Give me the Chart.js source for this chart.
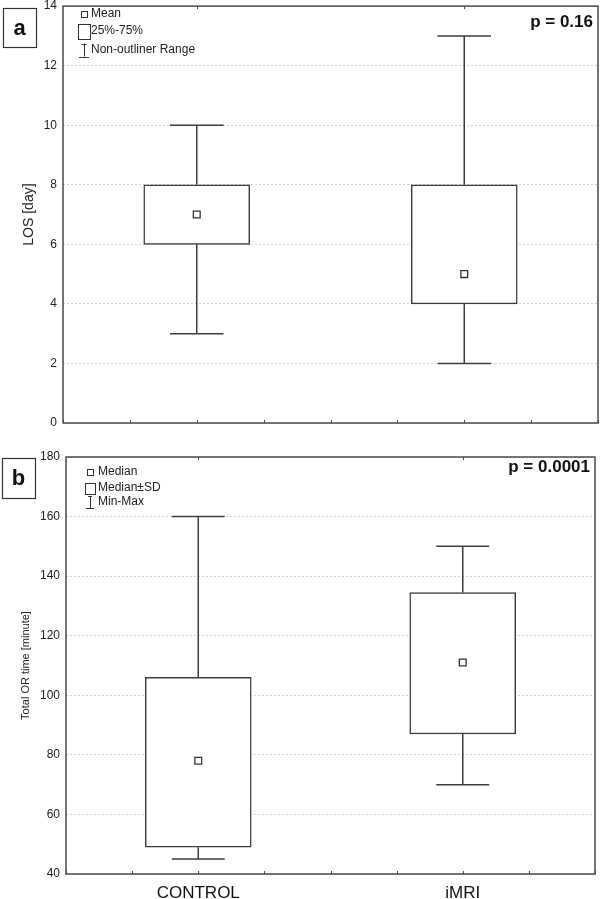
<!DOCTYPE html>
<html>
<head>
<meta charset="utf-8">
<script src="https://cdn.jsdelivr.net/npm/chart.js@4.4.0/dist/chart.umd.min.js"></script>
<style>
  body { margin: 0; background: #fff; }
  #wrap { position: relative; width: 609px; height: 899px; }
  #wrap canvas { position: absolute; left: 0; }
</style>
</head>
<body>
<div id="wrap">
  <canvas id="chartA" width="609" height="440" style="top:0"></canvas>
  <canvas id="chartB" width="609" height="459" style="top:440px"></canvas>
</div>
<script>
// groups and where they sit on the 0..8 x axis
const groups = ['CONTROL', 'iMRI'];
const groupPos = [2, 6];

// panel a - length of stay [day]
const losMin = [3, 2];
const losQ1 = [6, 4];
const losQ3 = [8, 8];
const losMax = [10, 13];
const losMean = [7, 5];
const legendA = ['Mean', '25%-75%', 'Non-outliner Range'];

// panel b - total OR time [minute]
const orMin = [45, 70];
const orSdLow = [49, 87];
const orSdHigh = [106, 134.5];
const orMax = [160, 150];
const orMedian = [78, 111];
const legendB = ['Median', 'Median\u00b1SD', 'Min-Max'];

const FONT = "'Liberation Sans', Arial, sans-serif";
const INK = '#3c3c3c';
const capHalf = 0.4;

Chart.defaults.font.family = FONT;
Chart.defaults.color = '#222';

function whiskers(lo, hi, min, max) {
  const pts = [];
  groupPos.forEach((x, i) => {
    pts.push({x, y: hi[i]}, {x, y: max[i]}, {x, y: null});
    pts.push({x: x - capHalf, y: max[i]}, {x: x + capHalf, y: max[i]}, {x, y: null});
    pts.push({x, y: lo[i]}, {x, y: min[i]}, {x, y: null});
    pts.push({x: x - capHalf, y: min[i]}, {x: x + capHalf, y: min[i]}, {x, y: null});
  });
  return pts;
}

const panelDecor = {
  id: 'panelDecor',
  afterDraw(chart, args, o) {
    const {ctx, chartArea: a} = chart;
    const x = chart.scales.x;
    ctx.save();
    // frame
    ctx.strokeStyle = '#4a4a4a';
    ctx.lineWidth = 1.5;
    ctx.strokeRect(a.left, a.top, a.right - a.left, a.bottom - a.top);
    // small inward ticks
    ctx.lineWidth = 1;
    ctx.beginPath();
    x.ticks.forEach(t => {
      const px = Math.round(x.getPixelForValue(t.value)) + 0.5;
      ctx.moveTo(px, a.bottom); ctx.lineTo(px, a.bottom - 3);
    });
    groupPos.forEach(g => {
      const px = Math.round(x.getPixelForValue(g)) + 0.5;
      ctx.moveTo(px, a.top); ctx.lineTo(px, a.top + 3);
    });
    ctx.stroke();

    // panel letter
    const L = o.letterBox;
    ctx.strokeStyle = '#333';
    ctx.lineWidth = 1.2;
    ctx.strokeRect(L[0] + 0.5, L[1] + 0.5, L[2], L[3]);
    ctx.fillStyle = '#111';
    ctx.font = 'bold 22px ' + FONT;
    ctx.textAlign = 'center';
    ctx.textBaseline = 'middle';
    ctx.fillText(o.letter, L[0] + L[2] / 2, L[1] + L[3] / 2 + 1);

    // legend
    const g = o.legend;
    ctx.strokeStyle = '#333';
    ctx.lineWidth = 1;
    const cx = g.iconX;
    const r0 = g.rows[0], r1 = g.rows[1], r2 = g.rows[2];
    ctx.strokeRect(Math.round(cx - g.mark / 2) + 0.5, Math.round(r0 - g.mark / 2) + 0.5, g.mark, g.mark);
    ctx.strokeRect(Math.round(cx - g.boxW / 2) + 0.5, Math.round(r1 - g.boxH / 2) + 0.5, g.boxW, g.boxH);
    ctx.beginPath();
    const vx = Math.round(cx) + 0.5;
    ctx.moveTo(vx, r2 - g.whH / 2); ctx.lineTo(vx, r2 + g.whH / 2);
    ctx.moveTo(cx - g.capW / 2, Math.round(r2 + g.whH / 2) + 0.5);
    ctx.lineTo(cx + g.capW / 2, Math.round(r2 + g.whH / 2) + 0.5);
    ctx.moveTo(cx - g.capW / 4, Math.round(r2 - g.whH / 2) + 0.5);
    ctx.lineTo(cx + g.capW / 4, Math.round(r2 - g.whH / 2) + 0.5);
    ctx.stroke();
    ctx.fillStyle = '#222';
    ctx.font = '12px ' + FONT;
    ctx.textAlign = 'left';
    ctx.textBaseline = 'middle';
    o.legendText.forEach((t, i) => ctx.fillText(t, g.textX, g.rows[i]));

    // p value
    ctx.font = 'bold 17px ' + FONT;
    ctx.textAlign = 'right';
    ctx.fillStyle = '#111';
    ctx.fillText(o.pText, a.right - 5, o.pY);
    ctx.restore();
  }
};

function makePanel(id, p) {
  const ctx = document.getElementById(id).getContext('2d');
  return new Chart(ctx, {
    type: 'bar',
    data: {
      datasets: [
        {
          type: 'line', order: 3,
          data: whiskers(p.lo, p.hi, p.min, p.max),
          borderColor: INK, borderWidth: 1.5, pointRadius: 0, spanGaps: false, fill: false
        },
        {
          type: 'bar', order: 2,
          data: groupPos.map((x, i) => ({x, y: [p.lo[i], p.hi[i]]})),
          backgroundColor: '#fff', borderColor: INK, borderWidth: 1.5,
          borderSkipped: false, barThickness: 106
        },
        {
          type: 'line', order: 1, showLine: false,
          data: groupPos.map((x, i) => ({x, y: p.mid[i]})),
          pointStyle: 'rect', pointRadius: 4.8, pointBorderWidth: 1.3,
          pointBackgroundColor: '#fff', pointBorderColor: '#333'
        }
      ]
    },
    options: {
      responsive: false,
      animation: false,
      layout: {padding: p.pad},
      plugins: {
        legend: {display: false},
        tooltip: {enabled: false},
        panelDecor: p.decor
      },
      scales: {
        x: {
          type: 'linear', min: 0, max: 8, offset: false,
          grid: {display: false, offset: false},
          border: {display: false},
          ticks: {
            stepSize: 1, autoSkip: false, maxRotation: 0, padding: p.xPad,
            font: {size: 17}, color: '#111',
            callback: v => (p.showX && groupPos.indexOf(v) >= 0) ? groups[groupPos.indexOf(v)] : ''
          },
          afterFit: s => { s.height = p.xH; s.paddingLeft = 0; s.paddingRight = 0; }
        },
        y: {
          min: p.yMin, max: p.yMax,
          grid: {color: '#d2d2d2', lineWidth: 1, drawTicks: false},
          border: {display: false, dash: [2, 2]},
          ticks: {stepSize: p.yStep, padding: 6, font: {size: 12}, color: '#222'},
          title: {
            display: true, text: p.yTitle, color: '#222',
            font: {size: p.yTitleSize}, padding: {top: p.yTitlePad, bottom: 0}
          },
          afterFit: s => { s.width = p.yW; s.paddingTop = 0; s.paddingBottom = 0; }
        }
      }
    },
    plugins: [panelDecor]
  });
}

makePanel('chartA', {
  lo: losQ1, hi: losQ3, min: losMin, max: losMax, mid: losMean,
  yMin: 0, yMax: 14, yStep: 2, yTitle: 'LOS [day]', yTitleSize: 14, yTitlePad: 21,
  yW: 63, xH: 17, xPad: 4, showX: false,
  pad: {top: 4, right: 11, left: 0, bottom: 0},
  decor: {
    letter: 'a', letterBox: [3, 8, 33, 39], pText: 'p = 0.16', pY: 22,
    legendText: legendA,
    legend: {iconX: 84, textX: 91, rows: [14, 31, 50], mark: 6, boxW: 12, boxH: 15, whH: 13, capW: 10}
  }
});

makePanel('chartB', {
  lo: orSdLow, hi: orSdHigh, min: orMin, max: orMax, mid: orMedian,
  yMin: 40, yMax: 180, yStep: 20, yTitle: 'Total OR time [minute]', yTitleSize: 11, yTitlePad: 19,
  yW: 66, xH: 25, xPad: 1, showX: true,
  pad: {top: 17, right: 14, left: 0, bottom: 0},
  decor: {
    letter: 'b', letterBox: [2, 18, 33, 40], pText: 'p = 0.0001', pY: 27,
    legendText: legendB,
    legend: {iconX: 90, textX: 98, rows: [32, 48, 62], mark: 6, boxW: 10, boxH: 11, whH: 12, capW: 8}
  }
});
</script>
</body>
</html>
